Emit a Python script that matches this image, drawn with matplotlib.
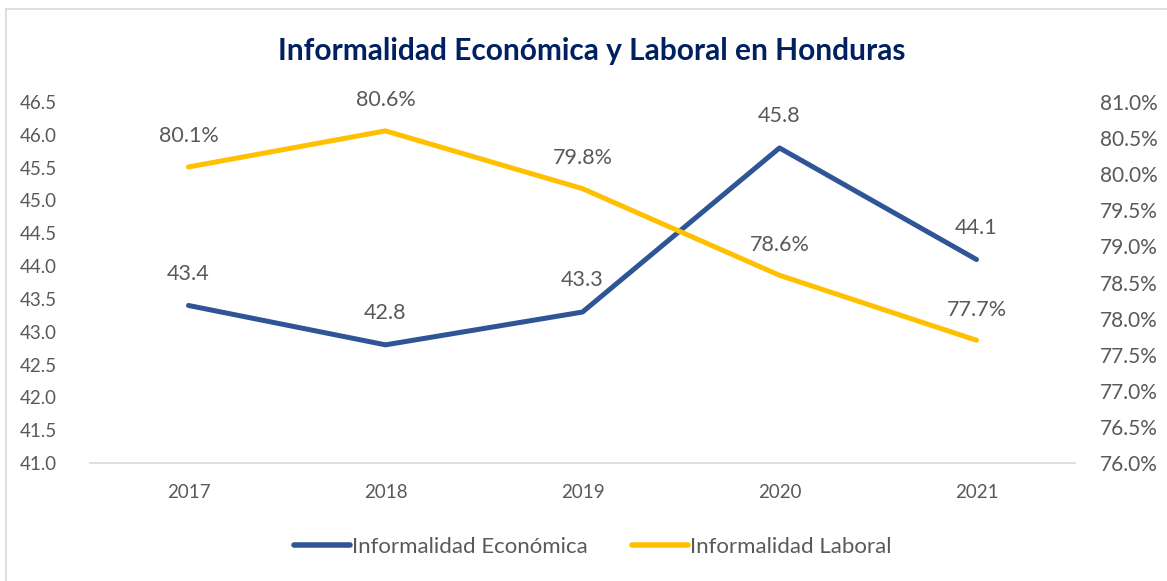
import matplotlib
matplotlib.use("Agg")
import matplotlib.pyplot as plt
from matplotlib.lines import Line2D
from matplotlib.ticker import FuncFormatter, MultipleLocator

years = ["2017", "2018", "2019", "2020", "2021"]
economica = [43.4, 42.8, 43.3, 45.8, 44.1]
laboral = [80.1, 80.6, 79.8, 78.6, 77.7]
economica_labels = ["43.4", "42.8", "43.3", "45.8", "44.1"]
laboral_labels = ["80.1%", "80.6%", "79.8%", "78.6%", "77.7%"]
series_names = ["Informalidad Económica", "Informalidad Laboral"]
title = "Informalidad Económica y Laboral en Honduras"

BLUE = "#2F5597"
YELLOW = "#FFC000"
GRAY = "#595959"
NAVY = "#002060"
FONT = ["Lato", "DejaVu Sans"]
plt.rcParams["font.family"] = FONT

W, H = 1167, 581
fig = plt.figure(figsize=(W / 100, H / 100), dpi=100)
ax = fig.add_axes([90 / W, 1 - 463 / H, (1075 - 90) / W, (463 - 102) / H])
ax2 = ax.twinx()

x = list(range(len(years)))
ax.plot(x, economica, color=BLUE, lw=3.6, solid_capstyle="round", zorder=3)
ax2.plot(x, laboral, color=YELLOW, lw=3.6, solid_capstyle="round", zorder=3)

ax.set_xlim(-0.5, len(years) - 0.5)
ax.set_ylim(41.0, 46.5)
ax2.set_ylim(76.0, 81.0)
ax.yaxis.set_major_locator(MultipleLocator(0.5))
ax2.yaxis.set_major_locator(MultipleLocator(0.5))
ax.yaxis.set_major_formatter(FuncFormatter(lambda v, p: f"{v:.1f}"))
ax2.yaxis.set_major_formatter(FuncFormatter(lambda v, p: f"{v:.1f}%"))
ax.set_xticks(x)
ax.set_xticklabels(years)

for a in (ax, ax2):
    for s in a.spines.values():
        s.set_visible(False)
    a.tick_params(length=0, colors=GRAY)
ax.spines["bottom"].set_visible(True)
ax.spines["bottom"].set_color("#D9D9D9")
ax.spines["bottom"].set_linewidth(1.2)
ax.tick_params(axis="y", pad=24, labelsize=13.5)
ax.tick_params(axis="x", pad=15, labelsize=13.5)
ax2.tick_params(axis="y", pad=18, labelsize=15)

for xi, v, lab in zip(x, economica, economica_labels):
    ax.annotate(lab, (xi, v), xytext=(0, 23), textcoords="offset points",
                ha="center", va="center", fontsize=15.5, color=GRAY)
for xi, v, lab in zip(x, laboral, laboral_labels):
    ax2.annotate(lab, (xi, v), xytext=(0, 22), textcoords="offset points",
                 ha="center", va="center", fontsize=15.5, color=GRAY)

fig.text(592 / W, 1 - 51 / H, title, ha="center", va="center",
         fontsize=21.5, fontweight="bold", color=NAVY)

handles = [Line2D([], [], color=BLUE, lw=4, solid_capstyle="round"),
           Line2D([], [], color=YELLOW, lw=4, solid_capstyle="round")]
fig.legend(handles, series_names, loc="center", bbox_to_anchor=(593 / W, 1 - 547 / H),
           ncol=2, frameon=False, fontsize=16, handlelength=2.5, handletextpad=0.1,
           columnspacing=2.0, labelcolor=GRAY)

fig.add_artist(Line2D([6 / W, 6 / W], [0, 1 - 9 / H], transform=fig.transFigure,
                      color="#D9D9D9", lw=1.2))
fig.add_artist(Line2D([6 / W, 1], [1 - 9 / H, 1 - 9 / H], transform=fig.transFigure,
                      color="#D9D9D9", lw=1.2))

fig.savefig("out.png", dpi=100)
